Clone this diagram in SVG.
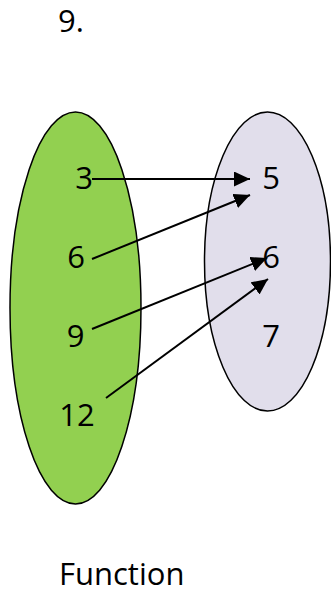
<svg xmlns="http://www.w3.org/2000/svg" width="331" height="594" viewBox="0 0 331 594">
<style>
.t{font-family:"Open Sans","Noto Sans",sans-serif;font-size:31px;fill:#000;}
.n{text-anchor:middle;}
.c{stroke:#000;stroke-width:2;fill:none;marker-end:url(#ah);}
</style>
<defs>
<marker id="ah" markerUnits="userSpaceOnUse" markerWidth="17" markerHeight="16" refX="16" refY="7.5" orient="auto">
<path d="M0,0 L16,7.5 L0,15 z" fill="#000"/>
</marker>
</defs>
<rect width="331" height="594" fill="#fff"/>
<text class="t" x="58" y="32">9.</text>
<g id="domain">
<ellipse cx="75.5" cy="308" rx="65.5" ry="196" fill="#92D050" stroke="#000" stroke-width="1.5"/>
<text class="t n" x="84" y="189">3</text>
<text class="t n" x="76" y="268">6</text>
<text class="t n" x="75.5" y="347">9</text>
<text class="t n" x="77" y="426">12</text>
</g>
<g id="codomain">
<ellipse cx="267.5" cy="261.5" rx="63" ry="149.5" fill="#E1DEEB" stroke="#000" stroke-width="1.5"/>
<text class="t n" x="271" y="189">5</text>
<text class="t n" x="271" y="268">6</text>
<text class="t n" x="271" y="347">7</text>
</g>
<g id="connectors">
<line class="c" x1="92" y1="179" x2="250" y2="179"/>
<line class="c" x1="92" y1="259" x2="250" y2="195"/>
<line class="c" x1="92" y1="329" x2="267" y2="258"/>
<line class="c" x1="106" y1="398" x2="268" y2="279"/>
</g>
<text class="t" x="59" y="585">Function</text>
</svg>
